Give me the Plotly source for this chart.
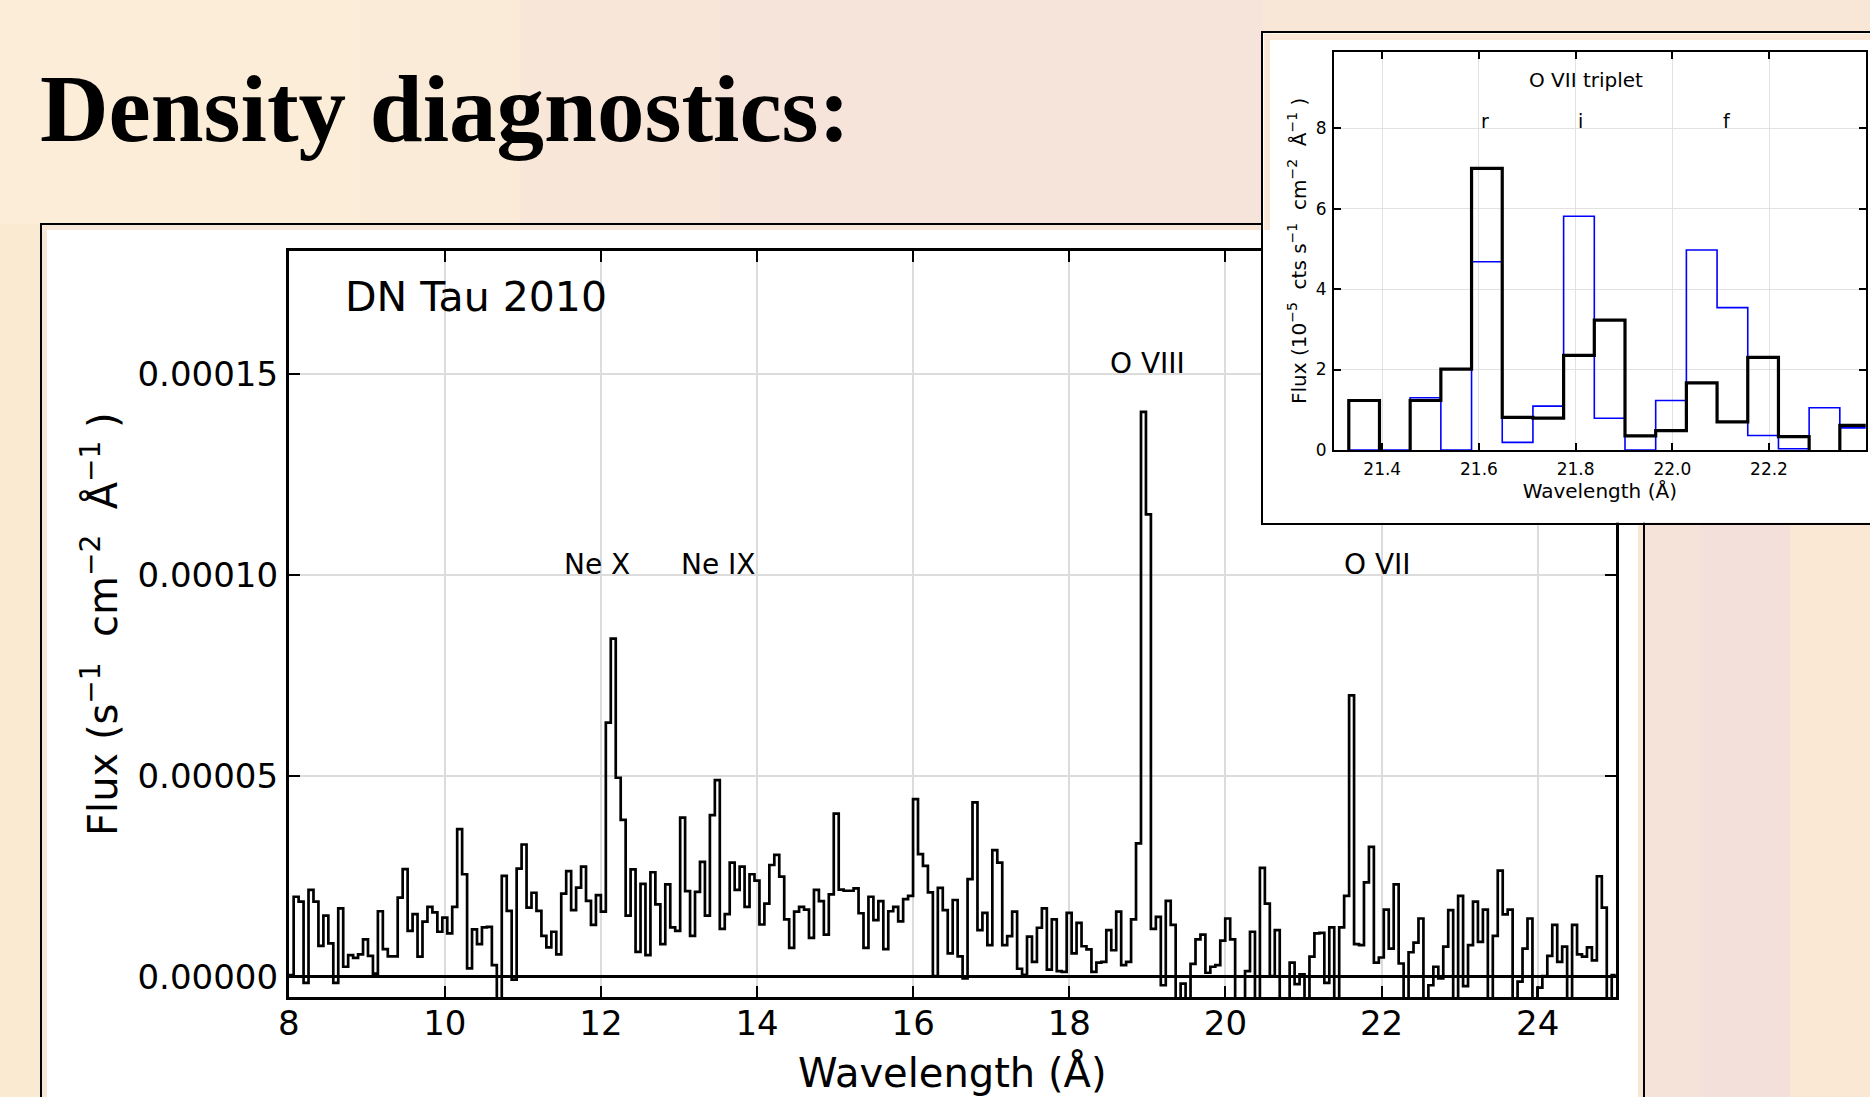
import plotly.graph_objects as go

W, H = 1870, 1097

# ------------------------------------------------------------------ data
bin_start = 8.0        # Å, left edge of first spectral bin
bin_width = 0.06348    # Å

# DN Tau 2010 flux per bin, in units of 1e-5 s^-1 cm^-2 Å^-1
flux_1e5 = [
    0.04, 1.99, 1.87, -0.15, 2.16, 1.87, 0.77, 1.52, 0.83, -0.15,
    1.70, 0.25, 0.54, 0.47, 0.56, 0.93, 0.52, 0.08, 1.63, 0.69,
    0.51, 0.51, 1.97, 2.68, 1.14, 1.56, 0.50, 1.37, 1.74, 1.60,
    1.12, 1.47, 1.08, 1.74, 3.67, 2.55, 0.21, 1.18, 0.81, 1.23,
    1.24, 0.29, -1.00, 2.51, 1.64, -0.07, 2.69, 3.29, 1.72, 2.09,
    1.64, 1.02, 0.73, 1.12, 0.56, 2.07, 2.63, 1.66, 2.22, 2.74,
    1.89, 1.29, 2.03, 1.62, 6.32, 8.41, 4.95, 3.90, 1.52, 2.67,
    0.62, 2.31, 0.54, 2.60, 1.80, 0.81, 2.30, 1.23, 1.14, 3.96,
    2.13, 1.02, 2.11, 2.86, 1.52, 4.02, 4.89, 1.19, 1.56, 2.84,
    2.16, 2.74, 1.74, 2.55, 2.39, 1.30, 1.82, 2.78, 3.03, 2.49,
    1.43, 0.72, 1.62, 1.74, 1.67, 0.97, 2.16, 1.88, 1.05, 2.05,
    4.06, 2.17, 2.14, 2.14, 2.20, 1.58, 0.72, 1.99, 1.41, 1.88,
    0.69, 1.63, 1.74, 1.38, 1.93, 2.01, 4.42, 3.05, 2.76, 2.10,
    0.02, 2.21, 1.66, 0.58, 1.91, 0.51, -0.04, 2.43, 4.34, 1.16,
    1.59, 0.79, 3.15, 2.84, 0.79, 1.01, 1.62, 0.20, 0.05, 1.00,
    0.37, 1.22, 1.70, 0.18, 1.43, 0.14, 0.12, 1.59, 0.58, 1.34,
    0.76, 0.68, 0.12, 0.35, 0.37, 1.16, 0.66, 1.62, 0.29, 0.37,
    1.43, 3.32, 14.05, 11.50, 1.19, 1.49, -0.21, 1.89, 1.29, -1.00,
    -0.17, -1.00, 0.32, 0.93, 1.05, 0.10, 0.25, 0.29, 0.90, 1.45,
    0.93, -1.00, -1.00, 0.14, 1.12, -1.00, 2.71, 1.82, 0.02, 1.16,
    -1.00, -1.00, 0.35, -0.18, 0.06, -1.00, 0.50, 1.08, 1.09, -0.15,
    1.23, -1.00, 1.23, 2.01, 7.00, 0.81, 0.79, 2.35, 3.23, 0.35,
    0.48, 1.67, 0.70, 2.30, 0.33, -1.00, 0.61, 0.85, 1.45, -1.00,
    -0.21, 0.25, -0.04, 0.75, 1.66, -1.00, 2.01, -0.23, 0.79, 1.87,
    0.87, 1.67, -1.00, 1.02, 2.64, 1.55, 1.67, -1.00, -0.12, 0.70,
    1.45, -1.00, -0.27, 0.02, 0.52, 1.29, 0.37, 0.75, -1.00, 1.29,
    0.56, 0.50, 0.73, 0.41, 2.50, 1.72, -1.00, 0.04,
]

# comparison spectrum in the O VII inset (blue), starting at bin index 210
blue_first_bin = 210
blue_flux_1e5 = [0.0, 0.0, 1.30, 0.0, 4.68, 0.19, 1.09, 5.81, 0.79, 0.0,
                 1.23, 4.97, 3.54, 0.36, 0.03, 1.05, 0.55]

# bins of the main spectrum shown in the O VII inset
inset_first_bin, inset_last_bin = 208, 228

main_xticks = [8, 10, 12, 14, 16, 18, 20, 22, 24]
main_yticks = [0.0, 0.00005, 0.00010, 0.00015]
main_ytick_text = ["0.00000", "0.00005", "0.00010", "0.00015"]

line_names = ["Ne X", "Ne IX", "O VIII", "O VII"]
line_name_x = [11.5, 13.0, 18.5, 21.5]
line_name_y = [0.00010, 0.00010, 0.00015, 0.00010]

inset_xticks = [21.4, 21.6, 21.8, 22.0, 22.2]
inset_yticks = [0, 2, 4, 6, 8]
triplet_names = ["r", "i", "f"]
triplet_x = [21.6, 21.8, 22.1]
triplet_y = 8.0

# ------------------------------------------------------------------ helpers
def px(x):
    return x / W


def py(y):
    return 1 - y / H


BG = "#F8E7D6"
FONT = "DejaVu Sans"

n = len(flux_1e5)
edges = [bin_start + k * bin_width for k in range(n + 1)]
main_y = [v * 1e-5 for v in flux_1e5] + [flux_1e5[-1] * 1e-5]

ins_vals = flux_1e5[inset_first_bin:inset_last_bin + 1]
ins_edges = [bin_start + (inset_first_bin + k) * bin_width for k in range(len(ins_vals) + 1)]
ins_y = ins_vals + [ins_vals[-1]]

blue_edges = [bin_start + (blue_first_bin + k) * bin_width for k in range(len(blue_flux_1e5) + 1)]
blue_y = blue_flux_1e5 + [blue_flux_1e5[-1]]

fig = go.Figure()

# main spectrum
fig.add_trace(go.Scatter(x=edges, y=main_y, mode="lines",
                         line=dict(shape="hv", color="black", width=2.7),
                         hoverinfo="skip", xaxis="x", yaxis="y"))

# inset frame (white panel) subplot
fig.add_trace(go.Scatter(x=[0.5], y=[0.5], mode="markers", marker=dict(opacity=0),
                         hoverinfo="skip", xaxis="x2", yaxis="y2"))

# inset spectra
fig.add_trace(go.Scatter(x=blue_edges, y=blue_y, mode="lines",
                         line=dict(shape="hv", color="#0000FF", width=1.6),
                         hoverinfo="skip", xaxis="x3", yaxis="y3"))
fig.add_trace(go.Scatter(x=ins_edges, y=ins_y, mode="lines",
                         line=dict(shape="hv", color="black", width=3.2),
                         hoverinfo="skip", xaxis="x3", yaxis="y3"))

GRID = "#dcdcdc"

annotations = []
annotations.append(dict(text="<b>Density diagnostics:</b>", xref="paper", yref="paper",
                        x=px(38), y=py(109), xanchor="left", yanchor="middle", showarrow=False,
                        font=dict(family="Liberation Serif", size=95, color="black")))
annotations.append(dict(text="DN Tau 2010", xref="x", yref="y", x=8.70, y=0.000169,
                        xanchor="left", yanchor="middle", showarrow=False,
                        font=dict(family=FONT, size=41, color="black")))
for name, lx, ly in zip(line_names, line_name_x, line_name_y):
    annotations.append(dict(text=name, xref="x", yref="y", x=lx, y=ly, xanchor="left",
                            yanchor="bottom", yshift=-8, showarrow=False,
                            font=dict(family=FONT, size=28, color="black")))
annotations.append(dict(text="O VII triplet", xref="x3", yref="y3", x=21.7, y=9.0,
                        xanchor="left", yanchor="bottom", yshift=-6, showarrow=False,
                        font=dict(family=FONT, size=20, color="black")))
for name, tx in zip(triplet_names, triplet_x):
    annotations.append(dict(text=name, xref="x3", yref="y3", x=tx, y=triplet_y,
                            xanchor="left", yanchor="bottom", yshift=-6, showarrow=False,
                            font=dict(family=FONT, size=19, color="black")))


def rect(x0, x1, y0, y1, color, layer="below", line=None):
    return dict(type="rect", xref="paper", yref="paper", x0=px(x0), x1=px(x1), y0=py(y1), y1=py(y0),
                fillcolor=color, line=line or dict(width=0), layer=layer)


shapes = [
    # slide background tints (soft bands)
    rect(0, 360, 0, 224, "#FCEDD8"),
    rect(360, 520, 0, 224, "#FAEAD8"),
    rect(520, 720, 0, 224, "#F8E7D9"),
    rect(720, 1263, 0, 224, "#F6E4DA"),
    rect(0, 41, 224, 1097, "#FBEAD2"),
    rect(1644, 1700, 522, 1097, "#F5E3DA"),
    rect(1700, 1790, 522, 1097, "#F3E0DA"),
    rect(1790, 1870, 522, 1097, "#FAE8D4"),
    # white figure panel behind the main plot and its frame (left, top, right edges)
    rect(47, 1638, 230, 1097, "white"),
    dict(type="path", xref="paper", yref="paper",
         path=f"M {px(41)},{py(1097)} L {px(41)},{py(224)} L {px(1644)},{py(224)} L {px(1644)},{py(1097)}",
         line=dict(color="black", width=2), layer="below"),
    # beige margins inside the inset picture
    rect(1264.2, 1870, 33.8, 40, BG, layer="above"),
    rect(1264.2, 1270, 33.8, 230, BG, layer="above"),
]

fig.update_layout(
    width=W, height=H, margin=dict(l=0, r=0, t=0, b=0, pad=0, autoexpand=False),
    paper_bgcolor=BG, plot_bgcolor="white", showlegend=False,
    font=dict(family=FONT, color="black"),
    annotations=annotations, shapes=shapes,
    xaxis=dict(domain=[px(288.7), px(1615.7)], range=[8, 25], anchor="y", automargin=False,
               tickvals=main_xticks, ticktext=[str(v) for v in main_xticks],
               ticks="inside", ticklen=11, tickwidth=2, tickcolor="black",
               showline=True, linecolor="black", linewidth=2.7, mirror="ticks",
               showgrid=True, gridcolor=GRID, gridwidth=1.6, zeroline=False,
               tickfont=dict(size=34), ticklabelstandoff=-6,
               title=dict(text="Wavelength (Å)", font=dict(size=40), standoff=18)),
    yaxis=dict(domain=[py(997.3), py(251)], range=[-0.0000051, 0.0001805], anchor="x",
               automargin=False,
               tickvals=main_yticks, ticktext=main_ytick_text,
               ticks="inside", ticklen=11, tickwidth=2, tickcolor="black",
               showline=True, linecolor="black", linewidth=2.7, mirror="ticks",
               showgrid=True, gridcolor=GRID, gridwidth=1.6,
               zeroline=True, zerolinecolor="black", zerolinewidth=3,
               tickfont=dict(size=34), ticklabelstandoff=1,
               title=dict(text="Flux (s<sup>−1</sup>  cm<sup>−2</sup>  Å<sup>−1</sup> )",
                          font=dict(size=40), standoff=8)),
    xaxis2=dict(domain=[px(1263), 1.0], range=[0, 1], anchor="y2", automargin=False,
                showgrid=False, zeroline=False, showticklabels=False, ticks="",
                showline=True, linecolor="black", linewidth=2, mirror=True),
    yaxis2=dict(domain=[py(522.7), py(32.7)], range=[0, 1], anchor="x2", automargin=False,
                showgrid=False, zeroline=False, showticklabels=False, ticks="",
                showline=True, linecolor="black", linewidth=2, mirror=False),
    xaxis3=dict(domain=[px(1333.9), px(1865.7)], range=[21.3, 22.4], anchor="y3", automargin=False,
                tickvals=inset_xticks, ticktext=[f"{v:.1f}" for v in inset_xticks],
                ticks="inside", ticklen=7, tickwidth=1.5, tickcolor="black",
                showline=True, linecolor="black", linewidth=2, mirror="ticks",
                showgrid=True, gridcolor="#e2e2e2", gridwidth=1.2, zeroline=False,
                tickfont=dict(size=17), ticklabelstandoff=3,
                title=dict(text="Wavelength (Å)", font=dict(size=20), standoff=4)),
    yaxis3=dict(domain=[py(450), py(51.7)], range=[0, 9.9], anchor="x3", automargin=False,
                tickvals=inset_yticks, ticktext=[str(v) for v in inset_yticks],
                ticks="inside", ticklen=7, tickwidth=1.5, tickcolor="black",
                showline=True, linecolor="black", linewidth=2, mirror="ticks",
                showgrid=True, gridcolor="#e2e2e2", gridwidth=1.2, zeroline=False,
                tickfont=dict(size=17), ticklabelstandoff=2,
                title=dict(text="Flux (10<sup>−5</sup>  cts s<sup>−1</sup>  cm<sup>−2</sup>  Å<sup>−1</sup> )",
                           font=dict(size=20), standoff=4)),
)

fig.write_html("out.html")
